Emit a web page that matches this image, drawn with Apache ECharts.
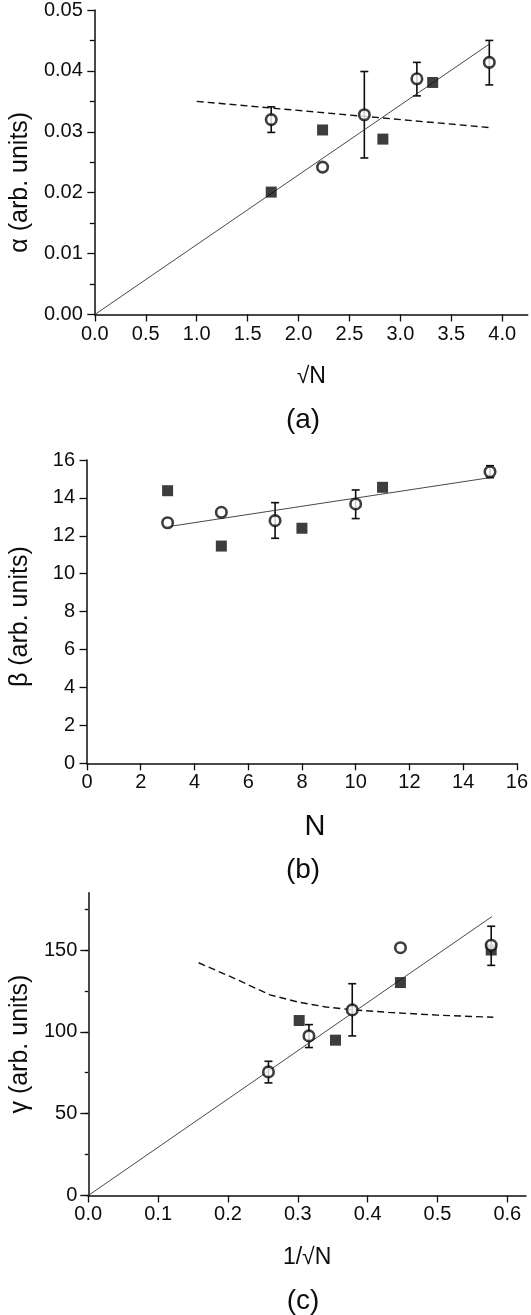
<!DOCTYPE html>
<html lang="en">
<head>
    <meta charset="UTF-8">
    <title>alpha, beta, gamma vs N</title>
    <script src="https://cdn.jsdelivr.net/npm/echarts@6/dist/echarts.min.js"></script>
    <style>
        html, body { margin: 0; padding: 0; background: #fff; }
        #chart { width: 531px; height: 1315px; }
    </style>
</head>
<body>
    <div id="chart"></div>

    <script>
        // panel (a): alpha vs sqrt(N)
        var sqrtNCircle = [1.732, 2.236, 2.646, 3.162, 3.873];
        var alphaCircle = [0.0320, 0.0242, 0.0328, 0.0387, 0.0414];
        var alphaCircleLo = [0.0299, null, 0.0257, 0.0359, 0.0377];
        var alphaCircleHi = [0.0341, null, 0.0399, 0.0414, 0.0450];
        var sqrtNSquare = [1.732, 2.236, 2.828, 3.317];
        var alphaSquare = [0.0201, 0.0303, 0.0288, 0.0381];
        var alphaFitX = [0, 3.873];
        var alphaFitY = [0, 0.0444];
        var alphaDashX = [1.0, 3.873];
        var alphaDashY = [0.0350, 0.0307];
        var alphaXTicks = [0, 0.5, 1.0, 1.5, 2.0, 2.5, 3.0, 3.5, 4.0];

        // panel (b): beta vs N
        var nCircle = [3, 5, 7, 10, 15];
        var betaCircle = [12.69, 13.24, 12.80, 13.68, 15.38];
        var betaCircleLo = [null, null, 11.87, 12.91, 15.07];
        var betaCircleHi = [null, null, 13.75, 14.42, 15.70];
        var nSquare = [3, 5, 8, 11];
        var betaSquare = [14.38, 11.46, 12.40, 14.56];
        var betaFitX = [3, 15];
        var betaFitY = [12.48, 15.07];

        // panel (c): gamma vs 1/sqrt(N)
        var invCircle = [0.258, 0.316, 0.378, 0.447, 0.577];
        var gammaCircle = [75.5, 97.5, 113.4, 151.4, 152.9];
        var gammaCircleLo = [68.8, 90.4, 97.5, null, 140.6];
        var gammaCircleHi = [82.0, 104.4, 129.4, null, 164.5];
        var invSquare = [0.302, 0.354, 0.447, 0.577];
        var gammaSquare = [106.9, 94.9, 130.1, 150.0];
        var gammaFitX = [0, 0.578];
        var gammaFitY = [0, 170.4];
        var gammaDashX = [0.158, 0.21, 0.26, 0.30, 0.34, 0.38, 0.43, 0.50, 0.58];
        var gammaDashY = [142.2, 132.5, 122.6, 118.2, 115.2, 113.4, 111.9, 110.2, 108.9];
        var gammaXTicks = [0, 0.1, 0.2, 0.3, 0.4, 0.5, 0.6];
        var gammaYMajor = [0, 25, 50, 75, 100, 125, 150, 175];
        var gammaYLabels = [0, 50, 100, 150];

        var FONT = "'Liberation Sans', Arial, sans-serif";
        var INK = '#0d0d0d';

        function pairs(xs, ys) {
            return xs.map(function (x, i) { return [x, ys[i]]; });
        }
        function errPairs(xs, lo, hi) {
            var out = [];
            xs.forEach(function (x, i) {
                if (lo[i] != null) out.push([x, lo[i], hi[i]]);
            });
            return out;
        }

        function renderErr(params, api) {
            var x = api.value(0);
            var top = api.coord([x, api.value(2)]);
            var bot = api.coord([x, api.value(1)]);
            var cap = 4;
            var st = { stroke: INK, lineWidth: 1.6 };
            return {
                type: 'group',
                children: [
                    { type: 'line', shape: { x1: top[0], y1: top[1], x2: bot[0], y2: bot[1] }, style: st },
                    { type: 'line', shape: { x1: top[0] - cap, y1: top[1], x2: top[0] + cap, y2: top[1] }, style: st },
                    { type: 'line', shape: { x1: bot[0] - cap, y1: bot[1], x2: bot[0] + cap, y2: bot[1] }, style: st }
                ]
            };
        }

        function panelSeries(idx, fit, dash, sq, circ, err) {
            var list = [];
            list.push({
                type: 'custom', xAxisIndex: idx, yAxisIndex: idx,
                renderItem: renderErr, encode: { x: 0, y: [1, 2] },
                data: err, z: 2, silent: true
            });
            list.push({
                type: 'line', xAxisIndex: idx, yAxisIndex: idx, data: fit,
                showSymbol: false, lineStyle: { color: '#333', width: 0.9 }, z: 3
            });
            if (dash) {
                list.push({
                    type: 'line', xAxisIndex: idx, yAxisIndex: idx, data: dash,
                    showSymbol: false, lineStyle: { color: '#111', width: 1.4, type: [7, 4] }, z: 3
                });
            }
            list.push({
                type: 'scatter', xAxisIndex: idx, yAxisIndex: idx, data: sq,
                symbol: 'rect', symbolSize: 11, itemStyle: { color: INK }, z: 4
            });
            list.push({
                type: 'scatter', xAxisIndex: idx, yAxisIndex: idx, data: circ,
                symbol: 'circle', symbolSize: 10.5,
                itemStyle: { color: '#fff', borderColor: INK, borderWidth: 2.6 }, z: 5
            });
            return list;
        }

        var axisLine = { lineStyle: { color: INK, width: 1.5 } };
        var tickStyle = { color: INK, width: 1.3 };
        var labelBase = { color: INK, fontSize: 20, fontFamily: FONT };
        var yNameStyle = { color: INK, fontSize: 25, fontFamily: FONT };

        var chart = echarts.init(document.getElementById('chart'), null, { renderer: 'canvas' });

        var option = {
            animation: false,
            backgroundColor: '#fff',
            grid: [
                { left: 86.7, top: 9, width: 441, height: 305.5 },
                { left: 86, top: 460, width: 434, height: 303.3 },
                { left: 83.5, top: 892.7, width: 442.5, height: 302.8 }
            ],
            xAxis: [
                {
                    gridIndex: 0, type: 'value', min: 0, max: 4.25,
                    axisLine: axisLine, splitLine: { show: false },
                    axisTick: { customValues: alphaXTicks, length: 7, lineStyle: tickStyle },
                    axisLabel: Object.assign({ customValues: alphaXTicks, margin: 10,
                        formatter: function (v) { return v.toFixed(1); } }, labelBase),
                    name: '√N', nameLocation: 'middle', nameGap: 51,
                    nameTextStyle: { color: INK, fontSize: 23, fontFamily: FONT }
                },
                {
                    gridIndex: 1, type: 'value', min: 0, max: 16, interval: 2,
                    axisLine: axisLine, splitLine: { show: false },
                    axisTick: { length: 7, lineStyle: tickStyle },
                    axisLabel: Object.assign({ margin: 9 }, labelBase),
                    name: 'N', nameLocation: 'middle', nameGap: 49,
                    nameTextStyle: { color: INK, fontSize: 29, fontFamily: FONT, padding: [0, 0, 0, 26] }
                },
                {
                    gridIndex: 2, type: 'value', min: 0, max: 0.6268,
                    axisLine: axisLine, splitLine: { show: false },
                    axisTick: { customValues: gammaXTicks, length: 7, lineStyle: tickStyle },
                    axisLabel: Object.assign({ customValues: gammaXTicks, margin: 9,
                        formatter: function (v) { return v.toFixed(1); } }, labelBase),
                    name: '1/√N', nameLocation: 'middle', nameGap: 51,
                    nameTextStyle: { color: INK, fontSize: 23, fontFamily: FONT }
                }
            ],
            yAxis: [
                {
                    gridIndex: 0, type: 'value', min: 0, max: 0.05, interval: 0.01,
                    axisLine: axisLine, splitLine: { show: false },
                    axisTick: { length: 7.5, lineStyle: tickStyle },
                    minorTick: { show: true, splitNumber: 2, length: 5, lineStyle: tickStyle },
                    axisLabel: Object.assign({ margin: 12,
                        formatter: function (v) { return v.toFixed(2); } }, labelBase),
                    name: 'α (arb. units)', nameLocation: 'middle', nameGap: 58,
                    nameTextStyle: Object.assign({ padding: [0, 40, 0, 0] }, yNameStyle)
                },
                {
                    gridIndex: 1, type: 'value', min: 0, max: 16, interval: 2,
                    axisLine: axisLine, splitLine: { show: false },
                    axisTick: { length: 7.5, lineStyle: tickStyle },
                    axisLabel: Object.assign({ margin: 12 }, labelBase),
                    name: 'β (arb. units)', nameLocation: 'middle', nameGap: 54,
                    nameTextStyle: Object.assign({ padding: [0, 10, 0, 0] }, yNameStyle)
                },
                {
                    gridIndex: 2, type: 'value', min: 0, max: 185,
                    axisLine: axisLine, splitLine: { show: false },
                    axisTick: { customValues: gammaYLabels, length: 8, lineStyle: tickStyle },
                    axisLabel: Object.assign({ customValues: gammaYLabels, margin: 11 }, labelBase),
                    name: 'γ (arb. units)', nameLocation: 'middle', nameGap: 54,
                    nameTextStyle: yNameStyle
                },
                {
                    // short ticks halfway between the labelled ones
                    gridIndex: 2, type: 'value', min: 0, max: 185, position: 'left', offset: 0,
                    axisLine: { show: false }, splitLine: { show: false },
                    axisTick: { customValues: gammaYMajor, length: 3.5, lineStyle: tickStyle },
                    axisLabel: { show: false }
                }
            ],
            graphic: [
                { type: 'text', x: 303, y: 420,
                  style: { text: '(a)', font: '28px ' + FONT, fill: INK, align: 'center', verticalAlign: 'middle' } },
                { type: 'text', x: 303, y: 870,
                  style: { text: '(b)', font: '28px ' + FONT, fill: INK, align: 'center', verticalAlign: 'middle' } },
                { type: 'text', x: 303, y: 1301,
                  style: { text: '(c)', font: '28px ' + FONT, fill: INK, align: 'center', verticalAlign: 'middle' } }
            ],
            series: [].concat(
                panelSeries(0, pairs(alphaFitX, alphaFitY), pairs(alphaDashX, alphaDashY),
                    pairs(sqrtNSquare, alphaSquare), pairs(sqrtNCircle, alphaCircle),
                    errPairs(sqrtNCircle, alphaCircleLo, alphaCircleHi)),
                panelSeries(1, pairs(betaFitX, betaFitY), null,
                    pairs(nSquare, betaSquare), pairs(nCircle, betaCircle),
                    errPairs(nCircle, betaCircleLo, betaCircleHi)),
                panelSeries(2, pairs(gammaFitX, gammaFitY), pairs(gammaDashX, gammaDashY),
                    pairs(invSquare, gammaSquare), pairs(invCircle, gammaCircle),
                    errPairs(invCircle, gammaCircleLo, gammaCircleHi))
            )
        };

        chart.setOption(option);
    </script>
</body>
</html>
